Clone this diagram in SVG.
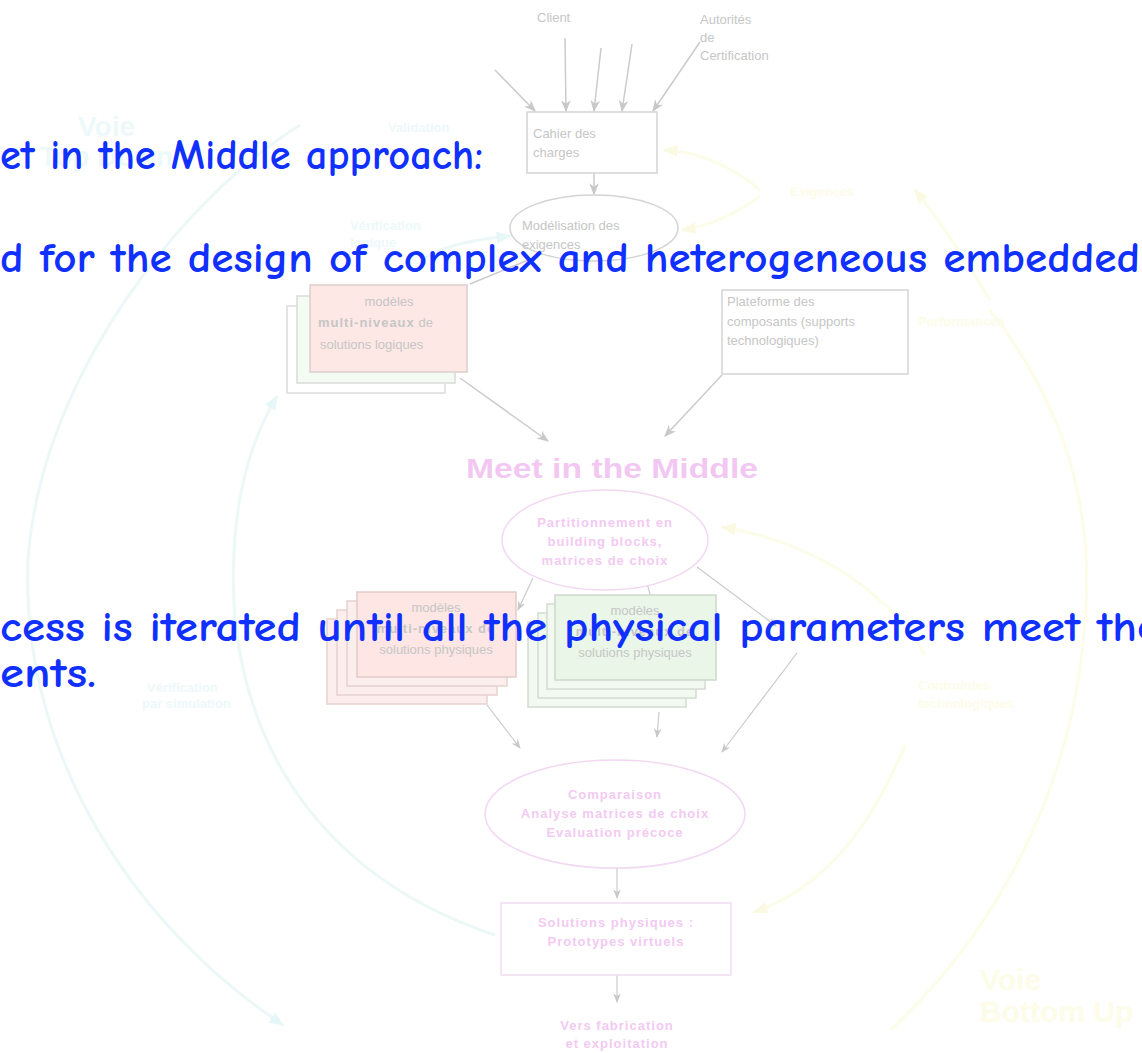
<svg xmlns="http://www.w3.org/2000/svg" width="1142" height="1053" viewBox="0 0 1142 1053">
<style>
.g{font-family:"Liberation Sans",Arial,sans-serif;font-size:13px;fill:#c6c6c6}
.p{font-family:"Liberation Sans",Arial,sans-serif;font-size:13px;fill:#f2caf2;letter-spacing:1px;font-weight:bold}
.gl{stroke:#cbcbcb;stroke-width:1.5;fill:none}
.pl{stroke:#cbcbcb;stroke-width:1.2;fill:none}
.cy{stroke:#ecf8f8;stroke-width:3;fill:none}
.ye{stroke:#fcfce8;stroke-width:3;fill:none}
.cyt{font-family:"Liberation Sans",Arial,sans-serif;font-weight:bold;fill:#edf9f9}
.yet{font-family:"Liberation Sans",Arial,sans-serif;font-weight:bold;fill:#fcfce8}
.blue{font-family:"Comic Sans MS","Comic Neue","Liberation Sans",sans-serif;font-size:43px;font-weight:bold;fill:#1030ff}
</style>
<defs>
<marker id="ag" viewBox="0 0 10 10" refX="9" refY="5" markerWidth="8" markerHeight="8" orient="auto-start-reverse"><path d="M0,1 L10,5 L0,9 L3,5 z" fill="#c8c8c8"/></marker>
<marker id="ac" viewBox="0 0 10 10" refX="9" refY="5" markerWidth="5" markerHeight="5" orient="auto"><path d="M0,1 L10,5 L0,9 z" fill="#e6f7f7"/></marker>
<marker id="ay" viewBox="0 0 10 10" refX="9" refY="5" markerWidth="5" markerHeight="5" orient="auto"><path d="M0,1 L10,5 L0,9 z" fill="#fafae2"/></marker>
</defs>
<rect width="1142" height="1053" fill="#ffffff"/>

<g id="loops">
<path class="cy" d="M300,125 C180,200 40,380 28,560 C20,760 140,930 283,1025" marker-end="url(#ac)"/>
<path class="cy" d="M495,935 C330,880 250,760 235,620 C228,520 245,450 277,396" marker-end="url(#ac)"/>
<path class="cy" d="M420,262 C440,246 470,240 510,236" marker-end="url(#ac)"/>
<path class="ye" d="M760,190 C730,165 700,152 664,150" marker-end="url(#ay)"/>
<path class="ye" d="M760,196 C735,215 710,226 682,230" marker-end="url(#ay)"/>
<path class="ye" d="M990,300 C960,250 935,215 915,190" marker-end="url(#ay)"/>
<path class="ye" d="M990,310 C1060,400 1095,500 1085,620 C1075,780 1000,930 890,1030"/>
<path class="ye" d="M925,655 C880,580 800,540 722,527" marker-end="url(#ay)"/>
<path class="ye" d="M905,745 C870,830 820,890 754,912" marker-end="url(#ay)"/>
</g>

<g id="loop-labels">
<text class="cyt" x="78" y="136" font-size="28">Voie</text>
<text class="cyt" x="40" y="166" font-size="28">Top Down</text>
<text class="cyt" x="388" y="132" font-size="13">Validation</text>
<text class="cyt" x="350" y="230" font-size="13">Vérification</text>
<text class="cyt" x="350" y="247" font-size="13">logique</text>
<text class="cyt" x="147" y="692" font-size="13">Vérification</text>
<text class="cyt" x="142" y="708" font-size="13">par simulation</text>
<text class="yet" x="790" y="196" font-size="13">Exigences</text>
<text class="yet" x="918" y="326" font-size="13">Performances</text>
<text class="yet" x="918" y="690" font-size="13">Contraintes</text>
<text class="yet" x="918" y="708" font-size="13">technologiques</text>
<text class="yet" x="980" y="990" font-size="30">Voie</text>
<text class="yet" x="980" y="1022" font-size="30">Bottom Up</text>
</g>

<g id="connectors">
<line class="gl" x1="495" y1="70" x2="535" y2="111" marker-end="url(#ag)"/>
<line class="gl" x1="565" y1="38" x2="566" y2="111" marker-end="url(#ag)"/>
<line class="gl" x1="601" y1="48" x2="594" y2="111" marker-end="url(#ag)"/>
<line class="gl" x1="632" y1="44" x2="622" y2="111" marker-end="url(#ag)"/>
<line class="gl" x1="700" y1="42" x2="653" y2="111" marker-end="url(#ag)"/>
<line class="gl" x1="594" y1="173" x2="594" y2="194" marker-end="url(#ag)"/>
<line class="gl" x1="538" y1="256" x2="470" y2="284"/>
<line class="gl" x1="460" y1="378" x2="548" y2="441" marker-end="url(#ag)"/>
<line class="gl" x1="722" y1="375" x2="665" y2="436" marker-end="url(#ag)"/>
<line class="pl" x1="533" y1="578" x2="518" y2="610" marker-end="url(#ag)"/>
<line class="pl" x1="646" y1="580" x2="655" y2="612" marker-end="url(#ag)"/>
<line class="pl" x1="697" y1="567" x2="776" y2="626" marker-end="url(#ag)"/>
<line class="pl" x1="487" y1="705" x2="520" y2="748" marker-end="url(#ag)"/>
<line class="pl" x1="659" y1="712" x2="657" y2="737" marker-end="url(#ag)"/>
<line class="pl" x1="797" y1="653" x2="722" y2="752" marker-end="url(#ag)"/>
<line class="pl" x1="617" y1="868" x2="617" y2="898" marker-end="url(#ag)"/>
<line class="pl" x1="617" y1="975" x2="617" y2="1002" marker-end="url(#ag)"/>
</g>

<g id="client"><text class="g" x="537" y="22">Client</text></g>
<g id="autorites">
<text class="g" x="700" y="24">Autorités</text>
<text class="g" x="700" y="42">de</text>
<text class="g" x="700" y="60">Certification</text>
</g>

<g id="cahier">
<rect x="527" y="112" width="130" height="61" fill="#fff" stroke="#d4d4d4" stroke-width="1.5"/>
<text class="g" x="533" y="138">Cahier des</text>
<text class="g" x="533" y="157">charges</text>
</g>

<g id="modelisation">
<ellipse cx="594" cy="228" rx="84" ry="33" fill="#fff" stroke="#d4d4d4" stroke-width="1.5"/>
<text class="g" x="522" y="230">Modélisation des</text>
<text class="g" x="522" y="249">exigences</text>
</g>

<g id="modeles-logiques">
<rect x="287" y="306" width="158" height="87" fill="#fff" stroke="#dcdcdc" stroke-width="1.5"/>
<rect x="297" y="296" width="158" height="87" fill="#f3fbf3" stroke="#d8dcd8" stroke-width="1.5"/>
<rect x="310" y="285" width="157" height="87" fill="#fde8e5" stroke="#dccfcd" stroke-width="1.5"/>
<text class="g" x="389" y="306" text-anchor="middle">modèles</text>
<text class="g" x="318" y="327"><tspan font-weight="bold" letter-spacing="1">multi-niveaux</tspan> de</text>
<text class="g" x="320" y="349">solutions logiques</text>
</g>

<g id="plateforme">
<rect x="722" y="290" width="186" height="84" fill="#fff" stroke="#d4d4d4" stroke-width="1.5"/>
<text class="g" x="727" y="306">Plateforme des</text>
<text class="g" x="727" y="326">composants (supports</text>
<text class="g" x="727" y="345">technologiques)</text>
</g>

<g id="meet">
<text x="466" y="478" font-family="Liberation Sans,Arial,sans-serif" font-weight="bold" font-size="28" fill="#f2c8f2" textLength="292" lengthAdjust="spacingAndGlyphs">Meet in the Middle</text>
</g>

<g id="partition">
<ellipse cx="605" cy="540" rx="103" ry="50" fill="#fff" stroke="#f2d8f2" stroke-width="1.5"/>
<text class="p" x="605" y="527" text-anchor="middle">Partitionnement en</text>
<text class="p" x="605" y="546" text-anchor="middle">building blocks,</text>
<text class="p" x="605" y="565" text-anchor="middle">matrices de choix</text>
</g>

<g id="modeles-physiques-a">
<rect x="327" y="619" width="160" height="85" fill="#fbeeed" stroke="#e6d2d0" stroke-width="1.5"/>
<rect x="337" y="610" width="160" height="85" fill="#fbeeed" stroke="#e6d2d0" stroke-width="1.5"/>
<rect x="347" y="601" width="160" height="85" fill="#fbeeed" stroke="#e6d2d0" stroke-width="1.5"/>
<rect x="357" y="592" width="159" height="85" fill="#fde6e3" stroke="#e2cbc8" stroke-width="1.5"/>
<text class="g" x="436" y="612" text-anchor="middle">modèles</text>
<text class="g" x="436" y="633" text-anchor="middle" font-weight="bold" letter-spacing="1">multi-niveaux de</text>
<text class="g" x="436" y="654" text-anchor="middle">solutions physiques</text>
</g>

<g id="modeles-physiques-b">
<rect x="528" y="622" width="158" height="85" fill="#f1f9f0" stroke="#d2dcd0" stroke-width="1.5"/>
<rect x="538" y="613" width="158" height="85" fill="#f1f9f0" stroke="#d2dcd0" stroke-width="1.5"/>
<rect x="547" y="604" width="158" height="85" fill="#f1f9f0" stroke="#d2dcd0" stroke-width="1.5"/>
<rect x="555" y="595" width="161" height="85" fill="#eaf6e8" stroke="#cdd9cb" stroke-width="1.5"/>
<text class="g" x="635" y="615" text-anchor="middle">modèles</text>
<text class="g" x="635" y="636" text-anchor="middle" font-weight="bold" letter-spacing="1">multi-niveaux de</text>
<text class="g" x="635" y="657" text-anchor="middle">solutions physiques</text>
</g>

<g id="comparaison">
<ellipse cx="615" cy="814" rx="130" ry="54" fill="#fff" stroke="#f2d8f2" stroke-width="1.5"/>
<text class="p" x="615" y="799" text-anchor="middle">Comparaison</text>
<text class="p" x="615" y="818" text-anchor="middle">Analyse matrices de choix</text>
<text class="p" x="615" y="837" text-anchor="middle">Evaluation précoce</text>
</g>

<g id="solutions">
<rect x="501" y="903" width="230" height="72" fill="#fff" stroke="#f2dcf2" stroke-width="1.5"/>
<text class="p" x="616" y="927" text-anchor="middle">Solutions physiques :</text>
<text class="p" x="616" y="946" text-anchor="middle">Prototypes virtuels</text>
</g>

<g id="fabrication">
<text class="p" x="617" y="1030" text-anchor="middle">Vers fabrication</text>
<text class="p" x="617" y="1048" text-anchor="middle">et exploitation</text>
</g>

<g id="caption">
<text class="blue" x="0" y="169" textLength="483" lengthAdjust="spacingAndGlyphs">et in the Middle approach:</text>
<text class="blue" x="0" y="272" textLength="1140" lengthAdjust="spacingAndGlyphs">d for the design of complex and heterogeneous embedded</text>
<text class="blue" x="0" y="641" textLength="1160" lengthAdjust="spacingAndGlyphs">cess is iterated until all the physical parameters meet the</text>
<text class="blue" x="0" y="687" textLength="96" lengthAdjust="spacingAndGlyphs">ents.</text>
</g>
</svg>
